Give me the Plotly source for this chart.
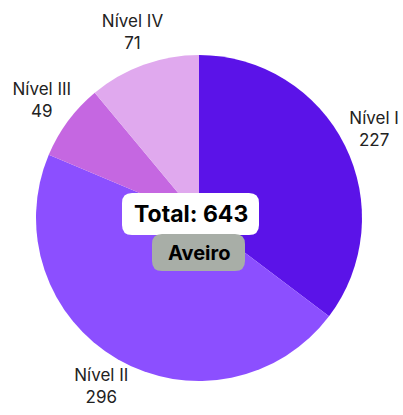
import math
import plotly.graph_objects as go

labels = ["Nível I", "Nível II", "Nível III", "Nível IV"]
values = [227, 296, 49, 71]
colors = ["#5B13E8", "#8C4FFF", "#C567E1", "#E0A9EE"]
total_label = "Total: 643"
region = "Aveiro"

FONT = "Inter"
W, H = 403, 415

# pie placement (pixels): centre and radius
CX, CY, R = 199, 218, 163
LABEL_R = 1.2  # label distance as fraction of radius

dom_x = [(CX - R) / W, (CX + R) / W]
dom_y = [1 - (CY + R) / H, 1 - (CY - R) / H]

total = sum(values)
mid_angles = []
acc = 0
for v in values:
    mid_angles.append((acc + v / 2) / total * 2 * math.pi)
    acc += v

fig = go.Figure()
fig.add_trace(go.Pie(
    labels=labels, values=values, sort=False, direction="clockwise", rotation=0,
    marker=dict(colors=colors, line=dict(width=0)),
    textinfo="none", showlegend=False, hoverinfo="label+value",
    domain=dict(x=dom_x, y=dom_y),
))
# labels: placed along each slice's mid angle in a hidden axis system whose unit is the pie radius
fig.add_trace(go.Scatter(
    x=[LABEL_R * math.sin(a) for a in mid_angles],
    y=[LABEL_R * math.cos(a) for a in mid_angles],
    mode="text",
    text=[f"{l}<br>{v}" for l, v in zip(labels, values)],
    textposition="middle center",
    textfont=dict(family=FONT, size=17, color="#222"),
    cliponaxis=False, hoverinfo="skip", showlegend=False,
))


def d(px_, py_):
    return (px_ - CX) / R, (CY - py_) / R


def rounded_rect(x0, y0, x1, y1, r):
    seq = [
        ("M", [(x0 + r, y0)]), ("L", [(x1 - r, y0)]), ("Q", [(x1, y0), (x1, y0 + r)]),
        ("L", [(x1, y1 - r)]), ("Q", [(x1, y1), (x1 - r, y1)]), ("L", [(x0 + r, y1)]),
        ("Q", [(x0, y1), (x0, y1 - r)]), ("L", [(x0, y0 + r)]), ("Q", [(x0, y0), (x0 + r, y0)]),
    ]
    out = []
    for cmd, pts in seq:
        coords = " ".join("{:.5f},{:.5f}".format(*d(*p)) for p in pts)
        out.append(f"{cmd} {coords}")
    return " ".join(out) + " Z"


tx, ty = d(190.5, 214)
ax, ay = d(198.5, 252.5)
fig.update_layout(
    width=W, height=H,
    margin=dict(l=0, r=0, t=0, b=0),
    paper_bgcolor="white", plot_bgcolor="rgba(0,0,0,0)",
    xaxis=dict(visible=False, range=[-CX / R, (W - CX) / R], fixedrange=True),
    yaxis=dict(visible=False, range=[-(H - CY) / R, CY / R], fixedrange=True),
    shapes=[
        dict(type="path", xref="x", yref="y", path=rounded_rect(122, 193, 259, 235, 10),
             fillcolor="white", line=dict(width=0), layer="above"),
        dict(type="path", xref="x", yref="y", path=rounded_rect(152, 234, 245, 271, 10),
             fillcolor="#A8AEA7", line=dict(width=0), layer="above"),
    ],
    annotations=[
        dict(text="<b>" + total_label + "</b>", x=tx, y=ty, xref="x", yref="y",
             xanchor="center", yanchor="middle", showarrow=False,
             font=dict(family=FONT, size=23, color="black")),
        dict(text="<b>" + region + "</b>", x=ax, y=ay, xref="x", yref="y",
             xanchor="center", yanchor="middle", showarrow=False,
             font=dict(family=FONT, size=20, color="black")),
    ],
)
fig.write_html("out.html", config={"displayModeBar": False},
               post_script="document.body.style.margin='0';")
